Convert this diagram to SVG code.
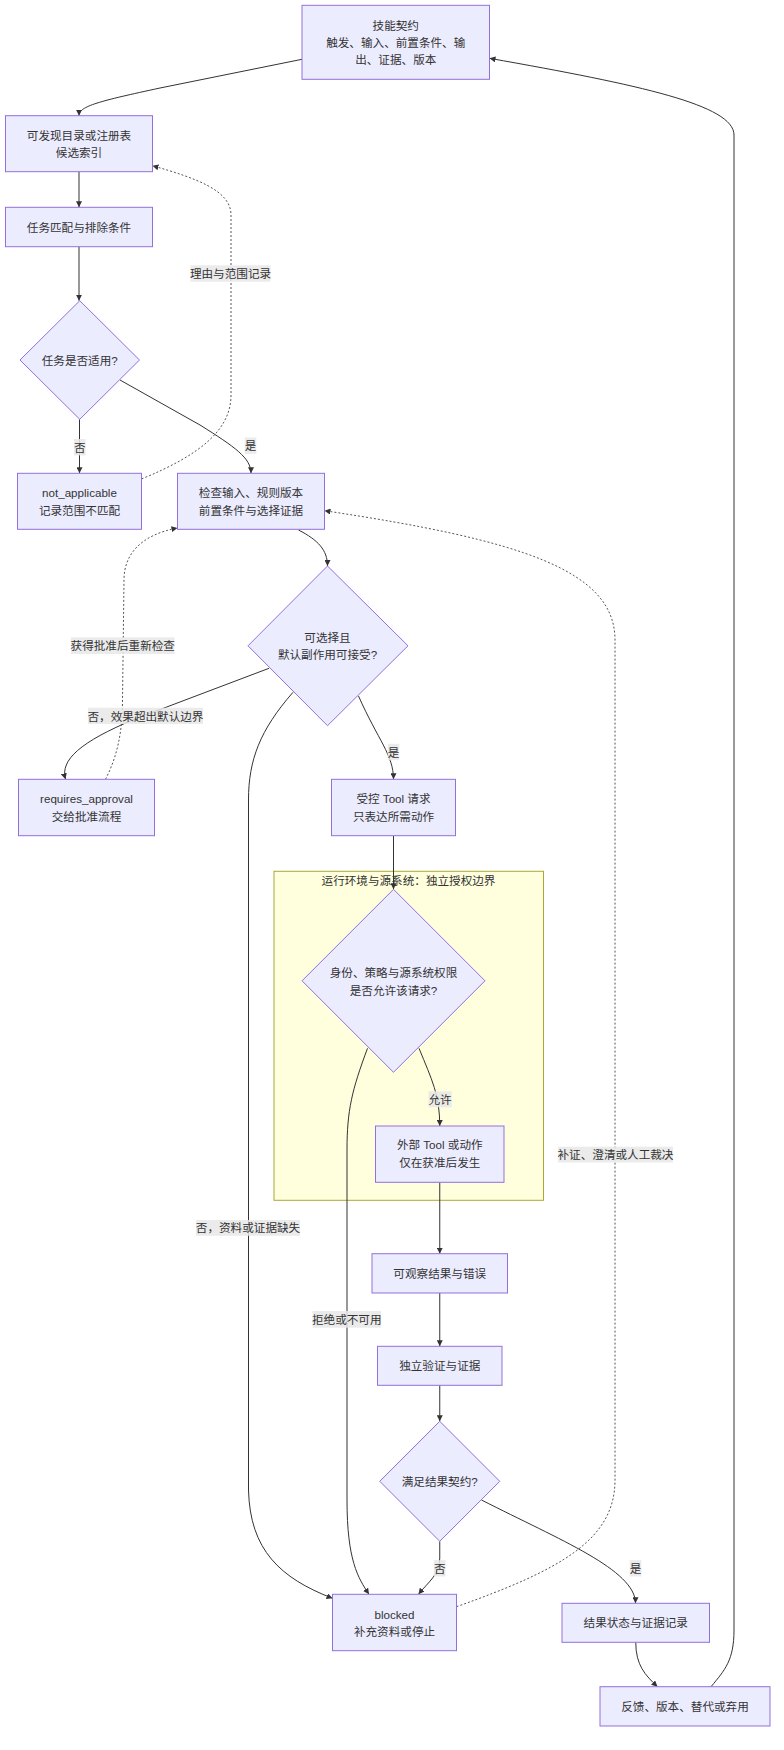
<svg xmlns="http://www.w3.org/2000/svg" width="784" height="1750" viewBox="0 0 784 1750">
<defs>
<marker id="arrow" viewBox="0 0 10 10" refX="10" refY="5" markerWidth="6" markerHeight="6" markerUnits="userSpaceOnUse" orient="auto">
<path d="M0,0 L10,5 L0,10 z" fill="#333333"/>
</marker>
<style>
.node rect, .node polygon { fill: #ECECFF; stroke: #9370DB; stroke-width: 1; }
text { font-family: "Liberation Sans", "Noto Sans CJK SC", sans-serif; font-size: 11.6px; fill: #333333; text-anchor: middle; dominant-baseline: central; }
.edge { fill: none; stroke: #333333; stroke-width: 1; }
.dotted { stroke-dasharray: 2 2; stroke: #555555; }
.lbl rect { fill: #e8e8e8; fill-opacity: 0.85; }
.cluster rect { fill: #ffffde; stroke: #aaaa33; stroke-width: 1; }
</style>
</defs>
<rect width="784" height="1750" fill="#ffffff"/>

<g id="cluster-runtime" class="cluster">
<rect x="274" y="871.3" width="269.5" height="329"/>
<text x="408.5" y="880.5">运行环境与源系统：独立授权边界</text>
</g>

<g id="connectors">
<path class="edge" marker-end="url(#arrow)" d="M302,59.3 L160,88 C100,101 79,106 79,115.7"/>
<path class="edge" marker-end="url(#arrow)" d="M79,171.7 L79,207.3"/>
<path class="edge" marker-end="url(#arrow)" d="M79,246.7 L79,300.7"/>
<path class="edge" marker-end="url(#arrow)" d="M79.5,419.3 L79.5,473.3"/>
<path class="edge" marker-end="url(#arrow)" d="M120,380 L200,425 C235,447 251,458 251,473.3"/>
<path class="edge dotted" marker-end="url(#arrow)" d="M141.5,479 C200,455 231,430 231,395 L231,215 C231,190 195,178 152.5,165.7"/>
<path class="edge" marker-end="url(#arrow)" d="M298.5,530 C318,540 327.5,550 327.5,566"/>
<path class="edge" marker-end="url(#arrow)" d="M269,668.3 L135,719 C80,742 60,760 65.5,779.3"/>
<path class="edge" marker-end="url(#arrow)" d="M358.5,696 C378,740 393.5,755 393.5,779.3"/>
<path class="edge" marker-end="url(#arrow)" d="M293,692.3 C260,730 248.5,760 248.5,800 L248.5,1490 C250,1550 280,1578 332.5,1598.3"/>
<path class="edge dotted" marker-end="url(#arrow)" d="M105.5,779.3 C118,755 122.5,730 122.5,700 L124,580 C124,555 140,535 177.5,528"/>
<path class="edge" marker-end="url(#arrow)" d="M393.5,835.7 L393.5,889.3"/>
<path class="edge" marker-end="url(#arrow)" d="M419,1048.3 C432,1080 439.75,1095 439.75,1126"/>
<path class="edge" marker-end="url(#arrow)" d="M367.5,1048.3 C352,1090 347,1110 347,1150 L347,1500 C347,1560 358,1578 369,1594.3"/>
<path class="edge" marker-end="url(#arrow)" d="M439.75,1182.3 L439.75,1253.7"/>
<path class="edge" marker-end="url(#arrow)" d="M439.75,1293 L439.75,1346.3"/>
<path class="edge" marker-end="url(#arrow)" d="M439.75,1385.3 L439.75,1421.3"/>
<path class="edge" marker-end="url(#arrow)" d="M439.75,1541.3 L439.75,1558 C439.75,1575 428,1582 418.5,1594.3"/>
<path class="edge" marker-end="url(#arrow)" d="M481.5,1500 C560,1540 635.5,1570 635.5,1603.3"/>
<path class="edge" marker-end="url(#arrow)" d="M635.75,1642.3 C635.75,1665 645,1675 657.5,1686.7"/>
<path class="edge" marker-end="url(#arrow)" d="M711,1686.7 C725,1670 734,1660 734,1630 L734,135 C734,105 640,85 489.5,58.3"/>
<path class="edge dotted" marker-end="url(#arrow)" d="M456.5,1606.7 C560,1570 615,1540 615,1480 L615,640 C615,570 520,540 324.5,510.7"/>

<g class="lbl"><rect x="190.5" y="265.3" width="80" height="16.4"/><text x="230.5" y="273.5">理由与范围记录</text></g>
<g class="lbl"><rect x="74" y="439" width="11.6" height="16.4"/><text x="79.8" y="447.2">否</text></g>
<g class="lbl"><rect x="244.7" y="437.5" width="11.6" height="16.4"/><text x="250.5" y="445.7">是</text></g>
<g class="lbl"><rect x="71" y="637.3" width="103.5" height="16.7"/><text x="122.75" y="645.7">获得批准后重新检查</text></g>
<g class="lbl"><rect x="88" y="707.7" width="115" height="16.3"/><text x="145.5" y="716">否，效果超出默认边界</text></g>
<g class="lbl"><rect x="387.7" y="743.8" width="11.6" height="16.4"/><text x="393.5" y="752">是</text></g>
<g class="lbl"><rect x="428.5" y="1091.3" width="23.2" height="16"/><text x="440" y="1099.3">允许</text></g>
<g class="lbl"><rect x="558" y="1146.7" width="115" height="15.8"/><text x="615.5" y="1154.6">补证、澄清或人工裁决</text></g>
<g class="lbl"><rect x="196" y="1220" width="104" height="15.8"/><text x="248" y="1227.9">否，资料或证据缺失</text></g>
<g class="lbl"><rect x="312.5" y="1311" width="68.5" height="16.7"/><text x="346.75" y="1319.3">拒绝或不可用</text></g>
<g class="lbl"><rect x="433.9" y="1560.1" width="11.6" height="16.4"/><text x="439.7" y="1568.3">否</text></g>
<g class="lbl"><rect x="629.7" y="1560.1" width="11.6" height="16.4"/><text x="635.5" y="1568.3">是</text></g>
</g>

<g id="n-contract" class="node">
<rect x="302" y="5.3" width="187.5" height="74"/>
<text x="395.75" y="25">技能契约</text>
<text x="395.75" y="42.3">触发、输入、前置条件、输</text>
<text x="395.75" y="59.3">出、证据、版本</text>
</g>
<g id="n-registry" class="node">
<rect x="5.5" y="115.7" width="147" height="56"/>
<text x="79" y="135">可发现目录或注册表</text>
<text x="79" y="152.3">候选索引</text>
</g>
<g id="n-match" class="node">
<rect x="5.5" y="207.3" width="147" height="39.4"/>
<text x="79" y="227">任务匹配与排除条件</text>
</g>
<g id="n-applicable" class="node">
<polygon points="79.75,300.7 139.5,360 79.75,419.3 20,360"/>
<text x="79.75" y="360">任务是否适用?</text>
</g>
<g id="n-notapplicable" class="node">
<rect x="17.5" y="473.3" width="124" height="56"/>
<text x="79.5" y="492.3">not_applicable</text>
<text x="79.5" y="510">记录范围不匹配</text>
</g>
<g id="n-check" class="node">
<rect x="177.5" y="473.3" width="147" height="56"/>
<text x="251" y="492.3">检查输入、规则版本</text>
<text x="251" y="510">前置条件与选择证据</text>
</g>
<g id="n-selectable" class="node">
<polygon points="327.5,566 408,645.8 327.5,725.7 248,645.8"/>
<text x="327.5" y="637.3">可选择且</text>
<text x="327.5" y="654.3">默认副作用可接受?</text>
</g>
<g id="n-approval" class="node">
<rect x="18.5" y="779.3" width="136" height="56.4"/>
<text x="86.5" y="798.7">requires_approval</text>
<text x="86.5" y="816">交给批准流程</text>
</g>
<g id="n-toolreq" class="node">
<rect x="331.5" y="779.3" width="124" height="56.4"/>
<text x="393.5" y="798.7">受控 Tool 请求</text>
<text x="393.5" y="816">只表达所需动作</text>
</g>
<g id="n-authz" class="node">
<polygon points="393.5,889.3 485,980.8 393.5,1072.3 302,980.8"/>
<text x="393.5" y="972.3">身份、策略与源系统权限</text>
<text x="393.5" y="990">是否允许该请求?</text>
</g>
<g id="n-external" class="node">
<rect x="375.5" y="1126" width="128.5" height="56.3"/>
<text x="439.75" y="1144.7">外部 Tool 或动作</text>
<text x="439.75" y="1162.7">仅在获准后发生</text>
</g>
<g id="n-observe" class="node">
<rect x="372" y="1253.7" width="135.5" height="39.3"/>
<text x="439.75" y="1273.3">可观察结果与错误</text>
</g>
<g id="n-verify" class="node">
<rect x="377.5" y="1346.3" width="124.5" height="39"/>
<text x="439.75" y="1365.8">独立验证与证据</text>
</g>
<g id="n-satisfied" class="node">
<polygon points="439.75,1421.3 499.75,1481.3 439.75,1541.3 379.75,1481.3"/>
<text x="439.75" y="1481.3">满足结果契约?</text>
</g>
<g id="n-blocked" class="node">
<rect x="332.5" y="1594.3" width="124" height="56.4"/>
<text x="394.5" y="1614">blocked</text>
<text x="394.5" y="1631">补充资料或停止</text>
</g>
<g id="n-record" class="node">
<rect x="562" y="1603.3" width="147.5" height="39"/>
<text x="635.75" y="1622.8">结果状态与证据记录</text>
</g>
<g id="n-feedback" class="node">
<rect x="600" y="1686.7" width="170" height="39.3"/>
<text x="685" y="1706.3">反馈、版本、替代或弃用</text>
</g>
</svg>
